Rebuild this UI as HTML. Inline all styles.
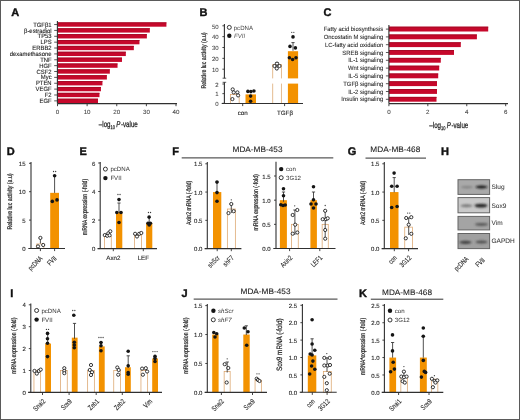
<!DOCTYPE html>
<html><head><meta charset="utf-8"><style>
html,body{margin:0;padding:0;background:#fff;}
svg{display:block;will-change:transform;}
text{font-family:"Liberation Sans", sans-serif;stroke:#2a2a2a;stroke-width:0.12px;text-rendering:geometricPrecision;}
</style></head><body>
<svg width="520" height="420" viewBox="0 0 520 420">
<rect x="0.50" y="0.50" width="519.00" height="419.00" fill="none" stroke="#5a5a5a" stroke-width="1.0"/>
<text transform="translate(11.20 15.70)" font-size="11" text-anchor="start" font-weight="bold" fill="#111" style="stroke:#111;stroke-width:0.4px">A</text>
<rect x="57.40" y="22.40" width="109.02" height="4.30" fill="#c6082b"/>
<rect x="57.40" y="22.40" width="109.02" height="0.90" fill="#a50a25"/>
<line x1="54.20" y1="24.55" x2="57.40" y2="24.55" stroke="#303030" stroke-width="0.8"/>
<text transform="translate(51.60 26.65) scale(0.95 1)" font-size="6.2" text-anchor="end" font-weight="normal" fill="#1e1e1e">TGFβ1</text>
<rect x="57.40" y="28.27" width="92.43" height="4.30" fill="#c6082b"/>
<rect x="57.40" y="28.27" width="92.43" height="0.90" fill="#a50a25"/>
<line x1="54.20" y1="30.42" x2="57.40" y2="30.42" stroke="#303030" stroke-width="0.8"/>
<text transform="translate(51.60 32.52) scale(0.95 1)" font-size="6.2" text-anchor="end" font-weight="normal" fill="#1e1e1e">β-estradiol</text>
<rect x="57.40" y="34.14" width="89.47" height="4.30" fill="#c6082b"/>
<rect x="57.40" y="34.14" width="89.47" height="0.90" fill="#a50a25"/>
<line x1="54.20" y1="36.29" x2="57.40" y2="36.29" stroke="#303030" stroke-width="0.8"/>
<text transform="translate(51.60 38.39) scale(0.95 1)" font-size="6.2" text-anchor="end" font-weight="normal" fill="#1e1e1e">TP53</text>
<rect x="57.40" y="40.01" width="82.06" height="4.30" fill="#c6082b"/>
<rect x="57.40" y="40.01" width="82.06" height="0.90" fill="#a50a25"/>
<line x1="54.20" y1="42.16" x2="57.40" y2="42.16" stroke="#303030" stroke-width="0.8"/>
<text transform="translate(51.60 44.26) scale(0.95 1)" font-size="6.2" text-anchor="end" font-weight="normal" fill="#1e1e1e">LPS</text>
<rect x="57.40" y="45.88" width="76.43" height="4.30" fill="#c6082b"/>
<rect x="57.40" y="45.88" width="76.43" height="0.90" fill="#a50a25"/>
<line x1="54.20" y1="48.03" x2="57.40" y2="48.03" stroke="#303030" stroke-width="0.8"/>
<text transform="translate(51.60 50.13) scale(0.95 1)" font-size="6.2" text-anchor="end" font-weight="normal" fill="#1e1e1e">ERBB2</text>
<rect x="57.40" y="51.75" width="68.43" height="4.30" fill="#c6082b"/>
<rect x="57.40" y="51.75" width="68.43" height="0.90" fill="#a50a25"/>
<line x1="54.20" y1="53.90" x2="57.40" y2="53.90" stroke="#303030" stroke-width="0.8"/>
<text transform="translate(51.60 56.00) scale(0.95 1)" font-size="6.2" text-anchor="end" font-weight="normal" fill="#1e1e1e">dexamethasone</text>
<rect x="57.40" y="57.62" width="64.58" height="4.30" fill="#c6082b"/>
<rect x="57.40" y="57.62" width="64.58" height="0.90" fill="#a50a25"/>
<line x1="54.20" y1="59.77" x2="57.40" y2="59.77" stroke="#303030" stroke-width="0.8"/>
<text transform="translate(51.60 61.87) scale(0.95 1)" font-size="6.2" text-anchor="end" font-weight="normal" fill="#1e1e1e">TNF</text>
<rect x="57.40" y="63.49" width="60.14" height="4.30" fill="#c6082b"/>
<rect x="57.40" y="63.49" width="60.14" height="0.90" fill="#a50a25"/>
<line x1="54.20" y1="65.64" x2="57.40" y2="65.64" stroke="#303030" stroke-width="0.8"/>
<text transform="translate(51.60 67.74) scale(0.95 1)" font-size="6.2" text-anchor="end" font-weight="normal" fill="#1e1e1e">HGF</text>
<rect x="57.40" y="69.36" width="52.44" height="4.30" fill="#c6082b"/>
<rect x="57.40" y="69.36" width="52.44" height="0.90" fill="#a50a25"/>
<line x1="54.20" y1="71.51" x2="57.40" y2="71.51" stroke="#303030" stroke-width="0.8"/>
<text transform="translate(51.60 73.61) scale(0.95 1)" font-size="6.2" text-anchor="end" font-weight="normal" fill="#1e1e1e">CSF2</text>
<rect x="57.40" y="75.23" width="49.47" height="4.30" fill="#c6082b"/>
<rect x="57.40" y="75.23" width="49.47" height="0.90" fill="#a50a25"/>
<line x1="54.20" y1="77.38" x2="57.40" y2="77.38" stroke="#303030" stroke-width="0.8"/>
<text transform="translate(51.60 79.48) scale(0.95 1)" font-size="6.2" text-anchor="end" font-weight="normal" fill="#1e1e1e">Myc</text>
<rect x="57.40" y="81.10" width="45.03" height="4.30" fill="#c6082b"/>
<rect x="57.40" y="81.10" width="45.03" height="0.90" fill="#a50a25"/>
<line x1="54.20" y1="83.25" x2="57.40" y2="83.25" stroke="#303030" stroke-width="0.8"/>
<text transform="translate(51.60 85.35) scale(0.95 1)" font-size="6.2" text-anchor="end" font-weight="normal" fill="#1e1e1e">PTEN</text>
<rect x="57.40" y="86.97" width="43.55" height="4.30" fill="#c6082b"/>
<rect x="57.40" y="86.97" width="43.55" height="0.90" fill="#a50a25"/>
<line x1="54.20" y1="89.12" x2="57.40" y2="89.12" stroke="#303030" stroke-width="0.8"/>
<text transform="translate(51.60 91.22) scale(0.95 1)" font-size="6.2" text-anchor="end" font-weight="normal" fill="#1e1e1e">VEGF</text>
<rect x="57.40" y="92.84" width="42.07" height="4.30" fill="#c6082b"/>
<rect x="57.40" y="92.84" width="42.07" height="0.90" fill="#a50a25"/>
<line x1="54.20" y1="94.99" x2="57.40" y2="94.99" stroke="#303030" stroke-width="0.8"/>
<text transform="translate(51.60 97.09) scale(0.95 1)" font-size="6.2" text-anchor="end" font-weight="normal" fill="#1e1e1e">F2</text>
<rect x="57.40" y="98.71" width="40.59" height="4.30" fill="#c6082b"/>
<rect x="57.40" y="98.71" width="40.59" height="0.90" fill="#a50a25"/>
<line x1="54.20" y1="100.86" x2="57.40" y2="100.86" stroke="#303030" stroke-width="0.8"/>
<text transform="translate(51.60 102.96) scale(0.95 1)" font-size="6.2" text-anchor="end" font-weight="normal" fill="#1e1e1e">EGF</text>
<line x1="57.50" y1="103.60" x2="57.50" y2="106.20" stroke="#303030" stroke-width="0.9"/>
<text transform="translate(57.50 114.30)" font-size="6.2" text-anchor="middle" font-weight="normal" fill="#444" style="stroke-width:0.06px">0</text>
<line x1="87.12" y1="103.60" x2="87.12" y2="106.20" stroke="#303030" stroke-width="0.9"/>
<text transform="translate(87.12 114.30)" font-size="6.2" text-anchor="middle" font-weight="normal" fill="#444" style="stroke-width:0.06px">10</text>
<line x1="116.75" y1="103.60" x2="116.75" y2="106.20" stroke="#303030" stroke-width="0.9"/>
<text transform="translate(116.75 114.30)" font-size="6.2" text-anchor="middle" font-weight="normal" fill="#444" style="stroke-width:0.06px">20</text>
<line x1="146.38" y1="103.60" x2="146.38" y2="106.20" stroke="#303030" stroke-width="0.9"/>
<text transform="translate(146.38 114.30)" font-size="6.2" text-anchor="middle" font-weight="normal" fill="#444" style="stroke-width:0.06px">30</text>
<line x1="176.00" y1="103.60" x2="176.00" y2="106.20" stroke="#303030" stroke-width="0.9"/>
<text transform="translate(176.00 114.30)" font-size="6.2" text-anchor="middle" font-weight="normal" fill="#444" style="stroke-width:0.06px">40</text>
<text transform="translate(118.30 127.20) scale(0.74 1)" font-size="8.4" text-anchor="middle" font-weight="normal" fill="#1e1e1e" style="stroke:#1e1e1e;stroke-width:0.25px">–log<tspan font-size="5.4" dy="1.8">10</tspan><tspan dy="-1.8" font-size="6"> </tspan><tspan font-style="italic">P</tspan><tspan font-size="2.5"> </tspan>-value</text>
<text transform="translate(199.40 15.90)" font-size="11" text-anchor="start" font-weight="bold" fill="#111" style="stroke:#111;stroke-width:0.4px">B</text>
<line x1="222.60" y1="78.20" x2="226.20" y2="78.20" stroke="#303030" stroke-width="0.8"/>
<line x1="222.60" y1="82.30" x2="226.20" y2="82.30" stroke="#303030" stroke-width="0.8"/>
<line x1="222.40" y1="69.20" x2="224.40" y2="69.20" stroke="#303030" stroke-width="0.9"/>
<text transform="translate(218.70 72.00)" font-size="6.0" text-anchor="end" font-weight="normal" fill="#444" style="stroke:#444;stroke-width:0.05px">10</text>
<line x1="222.40" y1="58.35" x2="224.40" y2="58.35" stroke="#303030" stroke-width="0.9"/>
<text transform="translate(218.70 61.15)" font-size="6.0" text-anchor="end" font-weight="normal" fill="#444" style="stroke:#444;stroke-width:0.05px">20</text>
<line x1="222.40" y1="47.50" x2="224.40" y2="47.50" stroke="#303030" stroke-width="0.9"/>
<text transform="translate(218.70 50.30)" font-size="6.0" text-anchor="end" font-weight="normal" fill="#444" style="stroke:#444;stroke-width:0.05px">30</text>
<line x1="222.40" y1="36.65" x2="224.40" y2="36.65" stroke="#303030" stroke-width="0.9"/>
<text transform="translate(218.70 39.45)" font-size="6.0" text-anchor="end" font-weight="normal" fill="#444" style="stroke:#444;stroke-width:0.05px">40</text>
<line x1="222.40" y1="25.80" x2="224.40" y2="25.80" stroke="#303030" stroke-width="0.9"/>
<text transform="translate(218.70 28.60)" font-size="6.0" text-anchor="end" font-weight="normal" fill="#444" style="stroke:#444;stroke-width:0.05px">50</text>
<line x1="222.40" y1="103.30" x2="224.40" y2="103.30" stroke="#303030" stroke-width="0.9"/>
<text transform="translate(218.70 106.10)" font-size="6.0" text-anchor="end" font-weight="normal" fill="#444" style="stroke:#444;stroke-width:0.05px">0</text>
<line x1="222.40" y1="93.65" x2="224.40" y2="93.65" stroke="#303030" stroke-width="0.9"/>
<text transform="translate(218.70 96.45)" font-size="6.0" text-anchor="end" font-weight="normal" fill="#444" style="stroke:#444;stroke-width:0.05px">1</text>
<line x1="222.40" y1="84.00" x2="224.40" y2="84.00" stroke="#303030" stroke-width="0.9"/>
<text transform="translate(218.70 86.80)" font-size="6.0" text-anchor="end" font-weight="normal" fill="#444" style="stroke:#444;stroke-width:0.05px">2</text>
<text transform="translate(205.80 60.40) rotate(-90) scale(0.76 1)" font-size="6.8" text-anchor="middle" font-weight="normal" fill="#1e1e1e" style="stroke:#1e1e1e;stroke-width:0.22px">Relative luc activity (a.u)</text>
<rect x="230.35" y="94.40" width="8.80" height="9.10" fill="#fff" stroke="#dba46c" stroke-width="0.75"/>
<rect x="245.50" y="94.40" width="10.50" height="9.10" fill="#f39200"/>
<rect x="272.75" y="64.50" width="8.60" height="39.00" fill="#fff" stroke="#dba46c" stroke-width="0.75"/>
<rect x="287.90" y="51.20" width="10.20" height="52.30" fill="#f39200"/>
<rect x="270.00" y="78.40" width="30.00" height="5.20" fill="#fff"/>
<line x1="242.70" y1="103.50" x2="242.70" y2="106.10" stroke="#303030" stroke-width="0.9"/>
<line x1="284.60" y1="103.50" x2="284.60" y2="106.10" stroke="#303030" stroke-width="0.9"/>
<text transform="translate(242.70 114.60)" font-size="6.2" text-anchor="middle" font-weight="normal" fill="#2a2a2a">con</text>
<text transform="translate(285.00 114.60)" font-size="6.2" text-anchor="middle" font-weight="normal" fill="#2a2a2a">TGFβ</text>
<circle cx="229.30" cy="27.40" r="2.0" fill="#fff" stroke="#151515" stroke-width="0.85"/>
<text transform="translate(233.70 29.60)" font-size="6.1" text-anchor="start" font-weight="normal" fill="#444" style="stroke-width:0">pcDNA</text>
<circle cx="229.30" cy="35.80" r="2.2" fill="#151515"/>
<text transform="translate(234.00 38.00)" font-size="6.1" text-anchor="start" font-weight="normal" fill="#555" style="stroke-width:0;font-style:italic">FVII</text>
<text transform="translate(323.60 16.20)" font-size="11" text-anchor="start" font-weight="bold" fill="#111" style="stroke:#111;stroke-width:0.4px">C</text>
<rect x="388.90" y="26.70" width="99.30" height="4.80" fill="#c6082b"/>
<rect x="388.90" y="26.70" width="99.30" height="0.90" fill="#a50a25"/>
<line x1="385.90" y1="29.10" x2="388.90" y2="29.10" stroke="#303030" stroke-width="0.8"/>
<text transform="translate(383.20 31.20) scale(0.95 1)" font-size="6.2" text-anchor="end" font-weight="normal" fill="#2a2a2a" style="stroke-width:0.08px">Fatty acid biosynthesis</text>
<rect x="388.90" y="34.50" width="88.00" height="4.80" fill="#c6082b"/>
<rect x="388.90" y="34.50" width="88.00" height="0.90" fill="#a50a25"/>
<line x1="385.90" y1="36.90" x2="388.90" y2="36.90" stroke="#303030" stroke-width="0.8"/>
<text transform="translate(383.20 39.00) scale(0.95 1)" font-size="6.2" text-anchor="end" font-weight="normal" fill="#2a2a2a" style="stroke-width:0.08px">Oncostatin M signaling</text>
<rect x="388.90" y="42.30" width="71.90" height="4.80" fill="#c6082b"/>
<rect x="388.90" y="42.30" width="71.90" height="0.90" fill="#a50a25"/>
<line x1="385.90" y1="44.70" x2="388.90" y2="44.70" stroke="#303030" stroke-width="0.8"/>
<text transform="translate(383.20 46.80) scale(0.95 1)" font-size="6.2" text-anchor="end" font-weight="normal" fill="#2a2a2a" style="stroke-width:0.08px">LC-fatty acid oxidation</text>
<rect x="388.90" y="50.10" width="65.10" height="4.80" fill="#c6082b"/>
<rect x="388.90" y="50.10" width="65.10" height="0.90" fill="#a50a25"/>
<line x1="385.90" y1="52.50" x2="388.90" y2="52.50" stroke="#303030" stroke-width="0.8"/>
<text transform="translate(383.20 54.60) scale(0.95 1)" font-size="6.2" text-anchor="end" font-weight="normal" fill="#2a2a2a" style="stroke-width:0.08px">SREB signaling</text>
<rect x="388.90" y="57.90" width="51.90" height="4.80" fill="#c6082b"/>
<rect x="388.90" y="57.90" width="51.90" height="0.90" fill="#a50a25"/>
<line x1="385.90" y1="60.30" x2="388.90" y2="60.30" stroke="#303030" stroke-width="0.8"/>
<text transform="translate(383.20 62.40) scale(0.95 1)" font-size="6.2" text-anchor="end" font-weight="normal" fill="#2a2a2a" style="stroke-width:0.08px">IL-1 signaling</text>
<rect x="388.90" y="65.70" width="50.30" height="4.80" fill="#c6082b"/>
<rect x="388.90" y="65.70" width="50.30" height="0.90" fill="#a50a25"/>
<line x1="385.90" y1="68.10" x2="388.90" y2="68.10" stroke="#303030" stroke-width="0.8"/>
<text transform="translate(383.20 70.20) scale(0.95 1)" font-size="6.2" text-anchor="end" font-weight="normal" fill="#2a2a2a" style="stroke-width:0.08px">Wnt signaling</text>
<rect x="388.90" y="73.50" width="49.30" height="4.80" fill="#c6082b"/>
<rect x="388.90" y="73.50" width="49.30" height="0.90" fill="#a50a25"/>
<line x1="385.90" y1="75.90" x2="388.90" y2="75.90" stroke="#303030" stroke-width="0.8"/>
<text transform="translate(383.20 78.00) scale(0.95 1)" font-size="6.2" text-anchor="end" font-weight="normal" fill="#2a2a2a" style="stroke-width:0.08px">IL-5 signaling</text>
<rect x="388.90" y="81.30" width="48.10" height="4.80" fill="#c6082b"/>
<rect x="388.90" y="81.30" width="48.10" height="0.90" fill="#a50a25"/>
<line x1="385.90" y1="83.70" x2="388.90" y2="83.70" stroke="#303030" stroke-width="0.8"/>
<text transform="translate(383.20 85.80) scale(0.95 1)" font-size="6.2" text-anchor="end" font-weight="normal" fill="#2a2a2a" style="stroke-width:0.08px">TGFβ signaling</text>
<rect x="388.90" y="89.10" width="48.10" height="4.80" fill="#c6082b"/>
<rect x="388.90" y="89.10" width="48.10" height="0.90" fill="#a50a25"/>
<line x1="385.90" y1="91.50" x2="388.90" y2="91.50" stroke="#303030" stroke-width="0.8"/>
<text transform="translate(383.20 93.60) scale(0.95 1)" font-size="6.2" text-anchor="end" font-weight="normal" fill="#2a2a2a" style="stroke-width:0.08px">IL-2 signaling</text>
<rect x="388.90" y="96.90" width="47.60" height="4.80" fill="#c6082b"/>
<rect x="388.90" y="96.90" width="47.60" height="0.90" fill="#a50a25"/>
<line x1="385.90" y1="99.30" x2="388.90" y2="99.30" stroke="#303030" stroke-width="0.8"/>
<text transform="translate(383.20 101.40) scale(0.95 1)" font-size="6.2" text-anchor="end" font-weight="normal" fill="#2a2a2a" style="stroke-width:0.08px">Insulin signaling</text>
<line x1="388.90" y1="103.60" x2="388.90" y2="106.20" stroke="#303030" stroke-width="0.9"/>
<text transform="translate(388.90 114.30)" font-size="6.2" text-anchor="middle" font-weight="normal" fill="#444" style="stroke-width:0.06px">0</text>
<line x1="427.83" y1="103.60" x2="427.83" y2="106.20" stroke="#303030" stroke-width="0.9"/>
<text transform="translate(427.83 114.30)" font-size="6.2" text-anchor="middle" font-weight="normal" fill="#444" style="stroke-width:0.06px">2</text>
<line x1="466.77" y1="103.60" x2="466.77" y2="106.20" stroke="#303030" stroke-width="0.9"/>
<text transform="translate(466.77 114.30)" font-size="6.2" text-anchor="middle" font-weight="normal" fill="#444" style="stroke-width:0.06px">4</text>
<line x1="505.70" y1="103.60" x2="505.70" y2="106.20" stroke="#303030" stroke-width="0.9"/>
<text transform="translate(505.70 114.30)" font-size="6.2" text-anchor="middle" font-weight="normal" fill="#444" style="stroke-width:0.06px">6</text>
<text transform="translate(448.80 127.80) scale(0.74 1)" font-size="8.4" text-anchor="middle" font-weight="normal" fill="#1e1e1e" style="stroke:#1e1e1e;stroke-width:0.25px">–log<tspan font-size="5.4" dy="1.8">10</tspan><tspan dy="-1.8" font-size="6"> </tspan><tspan font-style="italic">P</tspan><tspan font-size="2.5"> </tspan>-value</text>
<text transform="translate(6.80 154.70)" font-size="11" text-anchor="start" font-weight="bold" fill="#111" style="stroke:#111;stroke-width:0.4px">D</text>
<line x1="29.00" y1="248.50" x2="31.00" y2="248.50" stroke="#303030" stroke-width="0.9"/>
<text transform="translate(25.50 251.10)" font-size="6.0" text-anchor="end" font-weight="normal" fill="#2a2a2a" style="stroke:#2a2a2a;stroke-width:0.12px">0</text>
<line x1="29.00" y1="220.10" x2="31.00" y2="220.10" stroke="#303030" stroke-width="0.9"/>
<text transform="translate(25.50 222.70)" font-size="6.0" text-anchor="end" font-weight="normal" fill="#2a2a2a" style="stroke:#2a2a2a;stroke-width:0.12px">5</text>
<line x1="29.00" y1="191.70" x2="31.00" y2="191.70" stroke="#303030" stroke-width="0.9"/>
<text transform="translate(25.50 194.30)" font-size="6.0" text-anchor="end" font-weight="normal" fill="#2a2a2a" style="stroke:#2a2a2a;stroke-width:0.12px">10</text>
<line x1="29.00" y1="163.30" x2="31.00" y2="163.30" stroke="#303030" stroke-width="0.9"/>
<text transform="translate(25.50 165.90)" font-size="6.0" text-anchor="end" font-weight="normal" fill="#2a2a2a" style="stroke:#2a2a2a;stroke-width:0.12px">15</text>
<text transform="translate(12.10 201.50) rotate(-90) scale(0.76 1)" font-size="6.8" text-anchor="middle" font-weight="normal" fill="#1e1e1e" style="stroke:#1e1e1e;stroke-width:0.22px">Relative luc activity (a.u)</text>
<rect x="36.75" y="243.96" width="7.10" height="4.54" fill="#fff" stroke="#dba46c" stroke-width="0.75"/>
<rect x="50.20" y="192.84" width="8.80" height="55.66" fill="#f39200"/>
<line x1="40.40" y1="248.50" x2="40.40" y2="251.10" stroke="#303030" stroke-width="0.9"/>
<line x1="54.60" y1="248.50" x2="54.60" y2="251.10" stroke="#303030" stroke-width="0.9"/>
<text transform="translate(43.00 258.90) rotate(-45) scale(0.75 1)" font-size="7.2" text-anchor="end" font-weight="normal" fill="#2a2a2a">pcDNA</text>
<text transform="translate(57.00 258.90) rotate(-45) scale(0.75 1)" font-size="7.2" text-anchor="end" font-weight="normal" fill="#2a2a2a">FVII</text>
<text transform="translate(79.50 154.80)" font-size="11" text-anchor="start" font-weight="bold" fill="#111" style="stroke:#111;stroke-width:0.4px">E</text>
<line x1="98.20" y1="248.60" x2="100.20" y2="248.60" stroke="#303030" stroke-width="0.9"/>
<text transform="translate(95.40 251.20)" font-size="6.0" text-anchor="end" font-weight="normal" fill="#2a2a2a" style="stroke:#2a2a2a;stroke-width:0.12px">0</text>
<line x1="98.20" y1="220.07" x2="100.20" y2="220.07" stroke="#303030" stroke-width="0.9"/>
<text transform="translate(95.40 222.67)" font-size="6.0" text-anchor="end" font-weight="normal" fill="#2a2a2a" style="stroke:#2a2a2a;stroke-width:0.12px">2</text>
<line x1="98.20" y1="191.53" x2="100.20" y2="191.53" stroke="#303030" stroke-width="0.9"/>
<text transform="translate(95.40 194.13)" font-size="6.0" text-anchor="end" font-weight="normal" fill="#2a2a2a" style="stroke:#2a2a2a;stroke-width:0.12px">4</text>
<line x1="98.20" y1="163.00" x2="100.20" y2="163.00" stroke="#303030" stroke-width="0.9"/>
<text transform="translate(95.40 165.60)" font-size="6.0" text-anchor="end" font-weight="normal" fill="#2a2a2a" style="stroke:#2a2a2a;stroke-width:0.12px">6</text>
<text transform="translate(87.30 207.00) rotate(-90) scale(0.76 1)" font-size="6.8" text-anchor="middle" font-weight="normal" fill="#1e1e1e" style="stroke:#1e1e1e;stroke-width:0.22px">mRNA expression (-fold)</text>
<rect x="104.55" y="236.47" width="6.70" height="12.13" fill="#fff" stroke="#dba46c" stroke-width="0.75"/>
<rect x="116.00" y="212.22" width="6.30" height="36.38" fill="#f39200"/>
<rect x="134.55" y="235.05" width="6.90" height="13.55" fill="#fff" stroke="#dba46c" stroke-width="0.75"/>
<rect x="146.10" y="222.92" width="6.20" height="25.68" fill="#f39200"/>
<line x1="113.30" y1="248.60" x2="113.30" y2="251.20" stroke="#303030" stroke-width="0.9"/>
<line x1="143.30" y1="248.60" x2="143.30" y2="251.20" stroke="#303030" stroke-width="0.9"/>
<text transform="translate(113.30 260.30)" font-size="6.2" text-anchor="middle" font-weight="normal" fill="#2a2a2a">Axn2</text>
<text transform="translate(143.30 260.30)" font-size="6.2" text-anchor="middle" font-weight="normal" fill="#2a2a2a">LEF</text>
<circle cx="105.40" cy="169.10" r="2.0" fill="#fff" stroke="#151515" stroke-width="0.85"/>
<text transform="translate(110.40 171.30)" font-size="6.1" text-anchor="start" font-weight="normal" fill="#333" style="stroke-width:0">pcDNA</text>
<circle cx="105.40" cy="178.10" r="2.2" fill="#151515"/>
<text transform="translate(110.40 180.30)" font-size="6.1" text-anchor="start" font-weight="normal" fill="#333" style="stroke-width:0">FVII</text>
<text transform="translate(172.30 154.70)" font-size="11" text-anchor="start" font-weight="bold" fill="#111" style="stroke:#111;stroke-width:0.4px">F</text>
<text transform="translate(257.50 152.30) scale(1.03 1)" font-size="8.0" text-anchor="middle" font-weight="normal" fill="#222" style="stroke-width:0.1px">MDA-MB-453</text>
<line x1="181.70" y1="157.90" x2="333.30" y2="157.90" stroke="#303030" stroke-width="1.0"/>
<line x1="205.30" y1="248.60" x2="207.30" y2="248.60" stroke="#303030" stroke-width="0.9"/>
<text transform="translate(202.40 251.20)" font-size="6.0" text-anchor="end" font-weight="normal" fill="#2a2a2a" style="stroke:#2a2a2a;stroke-width:0.12px">0.0</text>
<line x1="205.30" y1="220.33" x2="207.30" y2="220.33" stroke="#303030" stroke-width="0.9"/>
<text transform="translate(202.40 222.93)" font-size="6.0" text-anchor="end" font-weight="normal" fill="#2a2a2a" style="stroke:#2a2a2a;stroke-width:0.12px">0.5</text>
<line x1="205.30" y1="192.07" x2="207.30" y2="192.07" stroke="#303030" stroke-width="0.9"/>
<text transform="translate(202.40 194.67)" font-size="6.0" text-anchor="end" font-weight="normal" fill="#2a2a2a" style="stroke:#2a2a2a;stroke-width:0.12px">1.0</text>
<line x1="205.30" y1="163.80" x2="207.30" y2="163.80" stroke="#303030" stroke-width="0.9"/>
<text transform="translate(202.40 166.40)" font-size="6.0" text-anchor="end" font-weight="normal" fill="#2a2a2a" style="stroke:#2a2a2a;stroke-width:0.12px">1.5</text>
<text transform="translate(190.80 202.80) rotate(-90) scale(0.76 1)" font-size="6.8" text-anchor="middle" font-weight="normal" fill="#1e1e1e" style="stroke:#1e1e1e;stroke-width:0.22px">Axin2 mRNA (-fold)</text>
<rect x="213.00" y="192.07" width="8.30" height="56.53" fill="#f39200"/>
<rect x="227.35" y="209.03" width="8.00" height="39.57" fill="#fff" stroke="#dba46c" stroke-width="0.75"/>
<line x1="217.20" y1="248.60" x2="217.20" y2="251.20" stroke="#303030" stroke-width="0.9"/>
<line x1="231.30" y1="248.60" x2="231.30" y2="251.20" stroke="#303030" stroke-width="0.9"/>
<text transform="translate(220.30 258.40) rotate(-45) scale(0.75 1)" font-size="7.2" text-anchor="end" font-weight="normal" fill="#2a2a2a">shScr</text>
<text transform="translate(234.30 258.40) rotate(-45) scale(0.75 1)" font-size="7.2" text-anchor="end" font-weight="normal" fill="#2a2a2a">shF7</text>
<line x1="274.00" y1="248.50" x2="276.00" y2="248.50" stroke="#303030" stroke-width="0.9"/>
<text transform="translate(270.50 251.10)" font-size="6.0" text-anchor="end" font-weight="normal" fill="#2a2a2a" style="stroke:#2a2a2a;stroke-width:0.12px">0.0</text>
<line x1="274.00" y1="224.33" x2="276.00" y2="224.33" stroke="#303030" stroke-width="0.9"/>
<text transform="translate(270.50 226.93)" font-size="6.0" text-anchor="end" font-weight="normal" fill="#2a2a2a" style="stroke:#2a2a2a;stroke-width:0.12px">0.5</text>
<line x1="274.00" y1="200.17" x2="276.00" y2="200.17" stroke="#303030" stroke-width="0.9"/>
<text transform="translate(270.50 202.77)" font-size="6.0" text-anchor="end" font-weight="normal" fill="#2a2a2a" style="stroke:#2a2a2a;stroke-width:0.12px">1.0</text>
<line x1="274.00" y1="176.00" x2="276.00" y2="176.00" stroke="#303030" stroke-width="0.9"/>
<text transform="translate(270.50 178.60)" font-size="6.0" text-anchor="end" font-weight="normal" fill="#2a2a2a" style="stroke:#2a2a2a;stroke-width:0.12px">1.5</text>
<text transform="translate(258.40 202.30) rotate(-90) scale(0.76 1)" font-size="6.8" text-anchor="middle" font-weight="normal" fill="#1e1e1e" style="stroke:#1e1e1e;stroke-width:0.22px">mRNA expression (-fold)</text>
<rect x="279.90" y="200.17" width="7.00" height="48.33" fill="#f39200"/>
<rect x="291.55" y="224.33" width="6.70" height="24.17" fill="#fff" stroke="#dba46c" stroke-width="0.75"/>
<rect x="310.40" y="200.17" width="6.50" height="48.33" fill="#f39200"/>
<rect x="322.15" y="224.33" width="6.10" height="24.17" fill="#fff" stroke="#dba46c" stroke-width="0.75"/>
<line x1="289.60" y1="248.50" x2="289.60" y2="251.10" stroke="#303030" stroke-width="0.9"/>
<line x1="319.80" y1="248.50" x2="319.80" y2="251.10" stroke="#303030" stroke-width="0.9"/>
<text transform="translate(292.80 258.40) rotate(-45) scale(0.75 1)" font-size="7.2" text-anchor="end" font-weight="normal" fill="#2a2a2a">Axin2</text>
<text transform="translate(322.80 258.40) rotate(-45) scale(0.75 1)" font-size="7.2" text-anchor="end" font-weight="normal" fill="#2a2a2a">LEF1</text>
<circle cx="281.20" cy="169.10" r="2.2" fill="#151515"/>
<text transform="translate(286.00 171.40)" font-size="6.1" text-anchor="start" font-weight="normal" fill="#333" style="stroke-width:0">con</text>
<circle cx="281.20" cy="177.70" r="2.0" fill="#fff" stroke="#151515" stroke-width="0.85"/>
<text transform="translate(286.00 179.90)" font-size="6.1" text-anchor="start" font-weight="normal" fill="#333" style="stroke-width:0">3G12</text>
<text transform="translate(347.80 155.00)" font-size="11" text-anchor="start" font-weight="bold" fill="#111" style="stroke:#111;stroke-width:0.4px">G</text>
<text transform="translate(395.30 152.10) scale(1.03 1)" font-size="8.0" text-anchor="middle" font-weight="normal" fill="#222" style="stroke-width:0.1px">MDA-MB-468</text>
<line x1="365.50" y1="158.10" x2="426.00" y2="158.10" stroke="#303030" stroke-width="1.0"/>
<line x1="382.30" y1="248.60" x2="384.30" y2="248.60" stroke="#303030" stroke-width="0.9"/>
<text transform="translate(379.40 251.20)" font-size="6.0" text-anchor="end" font-weight="normal" fill="#2a2a2a" style="stroke:#2a2a2a;stroke-width:0.12px">0.0</text>
<line x1="382.30" y1="220.33" x2="384.30" y2="220.33" stroke="#303030" stroke-width="0.9"/>
<text transform="translate(379.40 222.93)" font-size="6.0" text-anchor="end" font-weight="normal" fill="#2a2a2a" style="stroke:#2a2a2a;stroke-width:0.12px">0.5</text>
<line x1="382.30" y1="192.07" x2="384.30" y2="192.07" stroke="#303030" stroke-width="0.9"/>
<text transform="translate(379.40 194.67)" font-size="6.0" text-anchor="end" font-weight="normal" fill="#2a2a2a" style="stroke:#2a2a2a;stroke-width:0.12px">1.0</text>
<line x1="382.30" y1="163.80" x2="384.30" y2="163.80" stroke="#303030" stroke-width="0.9"/>
<text transform="translate(379.40 166.40)" font-size="6.0" text-anchor="end" font-weight="normal" fill="#2a2a2a" style="stroke:#2a2a2a;stroke-width:0.12px">1.5</text>
<text transform="translate(365.30 202.80) rotate(-90) scale(0.76 1)" font-size="6.8" text-anchor="middle" font-weight="normal" fill="#1e1e1e" style="stroke:#1e1e1e;stroke-width:0.22px">Axin2 mRNA (-fold)</text>
<rect x="390.00" y="192.07" width="8.50" height="56.53" fill="#f39200"/>
<rect x="404.75" y="227.12" width="7.70" height="21.48" fill="#fff" stroke="#dba46c" stroke-width="0.75"/>
<line x1="394.30" y1="248.60" x2="394.30" y2="251.20" stroke="#303030" stroke-width="0.9"/>
<line x1="408.60" y1="248.60" x2="408.60" y2="251.20" stroke="#303030" stroke-width="0.9"/>
<text transform="translate(397.30 258.40) rotate(-45) scale(0.75 1)" font-size="7.2" text-anchor="end" font-weight="normal" fill="#2a2a2a">con</text>
<text transform="translate(411.80 258.40) rotate(-45) scale(0.75 1)" font-size="7.2" text-anchor="end" font-weight="normal" fill="#2a2a2a">3G12</text>
<text transform="translate(441.10 154.80)" font-size="11" text-anchor="start" font-weight="bold" fill="#111" style="stroke:#111;stroke-width:0.4px">H</text>
<defs>
<filter id="bl" x="-50%" y="-100%" width="200%" height="300%"><feGaussianBlur stdDeviation="1.3 0.8"/></filter>
</defs>
<rect x="458.00" y="179.70" width="31.60" height="14.70" fill="#a9a9a9" stroke="#646464" stroke-width="1.0"/>
<text transform="translate(491.50 189.35)" font-size="6.5" text-anchor="start" font-weight="normal" fill="#333" style="stroke-width:0.05px">Slug</text>
<rect x="458.00" y="197.60" width="31.60" height="15.20" fill="#c9c9c9" stroke="#646464" stroke-width="1.0"/>
<text transform="translate(491.50 207.50)" font-size="6.5" text-anchor="start" font-weight="normal" fill="#333" style="stroke-width:0.05px">Sox9</text>
<rect x="458.00" y="216.40" width="31.60" height="13.50" fill="#a4a4a4" stroke="#646464" stroke-width="1.0"/>
<text transform="translate(491.50 225.45)" font-size="6.5" text-anchor="start" font-weight="normal" fill="#333" style="stroke-width:0.05px">Vim</text>
<rect x="458.00" y="233.50" width="31.60" height="15.10" fill="#a0a0a0" stroke="#646464" stroke-width="1.0"/>
<text transform="translate(491.50 243.35)" font-size="6.5" text-anchor="start" font-weight="normal" fill="#333" style="stroke-width:0.05px">GAPDH</text>
<ellipse cx="467" cy="187.2" rx="6.0" ry="1.2" fill="#7a7a7a" opacity="0.8" filter="url(#bl)"/>
<ellipse cx="481.5" cy="187.0" rx="6.0" ry="1.5" fill="#151515" opacity="1.0" filter="url(#bl)"/>
<ellipse cx="466.5" cy="205.8" rx="6.0" ry="1.5" fill="#6e6e6e" opacity="0.9" filter="url(#bl)"/>
<ellipse cx="481" cy="205.6" rx="6.5" ry="1.9" fill="#252525" opacity="1.0" filter="url(#bl)"/>
<ellipse cx="481.5" cy="224.4" rx="6.5" ry="1.5" fill="#505050" opacity="0.9" filter="url(#bl)"/>
<ellipse cx="465.5" cy="242.3" rx="6.0" ry="1.6" fill="#3a3a3a" opacity="0.95" filter="url(#bl)"/>
<ellipse cx="481.5" cy="242.0" rx="6.0" ry="1.5" fill="#484848" opacity="0.95" filter="url(#bl)"/>
<text transform="translate(469.10 259.50) rotate(-45) scale(0.75 1)" font-size="7.2" text-anchor="end" font-weight="normal" fill="#2a2a2a">pcDNA</text>
<text transform="translate(485.30 260.60) rotate(-45) scale(0.75 1)" font-size="7.2" text-anchor="end" font-weight="normal" fill="#2a2a2a">FVII</text>
<text transform="translate(10.20 296.80)" font-size="11" text-anchor="start" font-weight="bold" fill="#111" style="stroke:#111;stroke-width:0.4px">I</text>
<line x1="28.80" y1="392.40" x2="30.80" y2="392.40" stroke="#303030" stroke-width="0.9"/>
<text transform="translate(25.80 395.00)" font-size="6.0" text-anchor="end" font-weight="normal" fill="#2a2a2a" style="stroke:#2a2a2a;stroke-width:0.12px">0</text>
<line x1="28.80" y1="370.50" x2="30.80" y2="370.50" stroke="#303030" stroke-width="0.9"/>
<text transform="translate(25.80 373.10)" font-size="6.0" text-anchor="end" font-weight="normal" fill="#2a2a2a" style="stroke:#2a2a2a;stroke-width:0.12px">1</text>
<line x1="28.80" y1="348.60" x2="30.80" y2="348.60" stroke="#303030" stroke-width="0.9"/>
<text transform="translate(25.80 351.20)" font-size="6.0" text-anchor="end" font-weight="normal" fill="#2a2a2a" style="stroke:#2a2a2a;stroke-width:0.12px">2</text>
<line x1="28.80" y1="326.70" x2="30.80" y2="326.70" stroke="#303030" stroke-width="0.9"/>
<text transform="translate(25.80 329.30)" font-size="6.0" text-anchor="end" font-weight="normal" fill="#2a2a2a" style="stroke:#2a2a2a;stroke-width:0.12px">3</text>
<line x1="28.80" y1="304.80" x2="30.80" y2="304.80" stroke="#303030" stroke-width="0.9"/>
<text transform="translate(25.80 307.40)" font-size="6.0" text-anchor="end" font-weight="normal" fill="#2a2a2a" style="stroke:#2a2a2a;stroke-width:0.12px">4</text>
<text transform="translate(16.30 345.70) rotate(-90) scale(0.76 1)" font-size="6.8" text-anchor="middle" font-weight="normal" fill="#1e1e1e" style="stroke:#1e1e1e;stroke-width:0.22px">mRNA expression (-fold)</text>
<rect x="33.95" y="370.50" width="6.70" height="21.90" fill="#fff" stroke="#dba46c" stroke-width="0.75"/>
<rect x="45.20" y="343.56" width="5.80" height="48.84" fill="#f39200"/>
<line x1="42.50" y1="392.40" x2="42.50" y2="395.00" stroke="#303030" stroke-width="0.9"/>
<text transform="translate(45.80 401.90) rotate(-45) scale(0.75 1)" font-size="7.2" text-anchor="end" font-weight="normal" fill="#2a2a2a">Snai2</text>
<rect x="60.55" y="370.50" width="6.70" height="21.90" fill="#fff" stroke="#dba46c" stroke-width="0.75"/>
<rect x="71.80" y="337.65" width="5.80" height="54.75" fill="#f39200"/>
<line x1="69.10" y1="392.40" x2="69.10" y2="395.00" stroke="#303030" stroke-width="0.9"/>
<text transform="translate(72.40 401.90) rotate(-45) scale(0.75 1)" font-size="7.2" text-anchor="end" font-weight="normal" fill="#2a2a2a">Sox9</text>
<rect x="87.65" y="370.50" width="6.70" height="21.90" fill="#fff" stroke="#dba46c" stroke-width="0.75"/>
<rect x="98.90" y="346.41" width="5.80" height="45.99" fill="#f39200"/>
<line x1="96.20" y1="392.40" x2="96.20" y2="395.00" stroke="#303030" stroke-width="0.9"/>
<text transform="translate(99.50 401.90) rotate(-45) scale(0.75 1)" font-size="7.2" text-anchor="end" font-weight="normal" fill="#2a2a2a">Zeb1</text>
<rect x="113.75" y="370.50" width="6.70" height="21.90" fill="#fff" stroke="#dba46c" stroke-width="0.75"/>
<rect x="125.00" y="367.21" width="5.80" height="25.19" fill="#f39200"/>
<line x1="122.30" y1="392.40" x2="122.30" y2="395.00" stroke="#303030" stroke-width="0.9"/>
<text transform="translate(125.60 401.90) rotate(-45) scale(0.75 1)" font-size="7.2" text-anchor="end" font-weight="normal" fill="#2a2a2a">Zeb2</text>
<rect x="140.95" y="370.50" width="6.70" height="21.90" fill="#fff" stroke="#dba46c" stroke-width="0.75"/>
<rect x="152.20" y="358.45" width="5.80" height="33.94" fill="#f39200"/>
<line x1="149.50" y1="392.40" x2="149.50" y2="395.00" stroke="#303030" stroke-width="0.9"/>
<text transform="translate(152.80 401.90) rotate(-45) scale(0.75 1)" font-size="7.2" text-anchor="end" font-weight="normal" fill="#2a2a2a">Vim</text>
<circle cx="36.60" cy="310.50" r="2.0" fill="#fff" stroke="#151515" stroke-width="0.85"/>
<text transform="translate(41.40 312.70)" font-size="6.1" text-anchor="start" font-weight="normal" fill="#333" style="stroke-width:0">pcDNA</text>
<circle cx="36.60" cy="319.60" r="2.2" fill="#151515"/>
<text transform="translate(41.40 321.80)" font-size="6.1" text-anchor="start" font-weight="normal" fill="#333" style="stroke-width:0">FVII</text>
<text transform="translate(181.40 296.80)" font-size="11" text-anchor="start" font-weight="bold" fill="#111" style="stroke:#111;stroke-width:0.4px">J</text>
<text transform="translate(265.50 294.30) scale(1.03 1)" font-size="8.0" text-anchor="middle" font-weight="normal" fill="#222" style="stroke-width:0.1px">MDA-MB-453</text>
<line x1="193.70" y1="299.10" x2="337.50" y2="299.10" stroke="#303030" stroke-width="1.0"/>
<line x1="205.30" y1="392.40" x2="207.30" y2="392.40" stroke="#303030" stroke-width="0.9"/>
<text transform="translate(202.40 395.00)" font-size="6.0" text-anchor="end" font-weight="normal" fill="#2a2a2a" style="stroke:#2a2a2a;stroke-width:0.12px">0.0</text>
<line x1="205.30" y1="363.47" x2="207.30" y2="363.47" stroke="#303030" stroke-width="0.9"/>
<text transform="translate(202.40 366.07)" font-size="6.0" text-anchor="end" font-weight="normal" fill="#2a2a2a" style="stroke:#2a2a2a;stroke-width:0.12px">0.5</text>
<line x1="205.30" y1="334.53" x2="207.30" y2="334.53" stroke="#303030" stroke-width="0.9"/>
<text transform="translate(202.40 337.13)" font-size="6.0" text-anchor="end" font-weight="normal" fill="#2a2a2a" style="stroke:#2a2a2a;stroke-width:0.12px">1.0</text>
<line x1="205.30" y1="305.60" x2="207.30" y2="305.60" stroke="#303030" stroke-width="0.9"/>
<text transform="translate(202.40 308.20)" font-size="6.0" text-anchor="end" font-weight="normal" fill="#2a2a2a" style="stroke:#2a2a2a;stroke-width:0.12px">1.5</text>
<text transform="translate(188.30 345.70) rotate(-90) scale(0.76 1)" font-size="6.8" text-anchor="middle" font-weight="normal" fill="#1e1e1e" style="stroke:#1e1e1e;stroke-width:0.22px">mRNA expression (-fold)</text>
<rect x="212.20" y="334.53" width="6.40" height="57.87" fill="#f39200"/>
<rect x="224.15" y="371.57" width="6.00" height="20.83" fill="#fff" stroke="#dba46c" stroke-width="0.75"/>
<rect x="243.30" y="334.53" width="6.40" height="57.87" fill="#f39200"/>
<rect x="255.05" y="380.25" width="6.30" height="12.15" fill="#fff" stroke="#dba46c" stroke-width="0.75"/>
<line x1="221.40" y1="392.40" x2="221.40" y2="395.00" stroke="#303030" stroke-width="0.9"/>
<line x1="252.50" y1="392.40" x2="252.50" y2="395.00" stroke="#303030" stroke-width="0.9"/>
<text transform="translate(224.30 401.90) rotate(-45) scale(0.75 1)" font-size="7.2" text-anchor="end" font-weight="normal" fill="#2a2a2a">Snai2</text>
<text transform="translate(255.30 401.90) rotate(-45) scale(0.75 1)" font-size="7.2" text-anchor="end" font-weight="normal" fill="#2a2a2a">Sox9</text>
<circle cx="213.40" cy="310.80" r="2.2" fill="#151515"/>
<text transform="translate(218.00 313.00)" font-size="6.1" text-anchor="start" font-weight="normal" fill="#333" style="stroke-width:0;font-style:italic">shScr</text>
<circle cx="213.30" cy="319.80" r="2.0" fill="#fff" stroke="#151515" stroke-width="0.85"/>
<text transform="translate(218.00 321.90)" font-size="6.1" text-anchor="start" font-weight="normal" fill="#333" style="stroke-width:0;font-style:italic">shF7</text>
<line x1="300.40" y1="392.30" x2="302.40" y2="392.30" stroke="#303030" stroke-width="0.9"/>
<text transform="translate(297.00 394.90)" font-size="6.0" text-anchor="end" font-weight="normal" fill="#2a2a2a" style="stroke:#2a2a2a;stroke-width:0.12px">0.0</text>
<line x1="300.40" y1="374.90" x2="302.40" y2="374.90" stroke="#303030" stroke-width="0.9"/>
<text transform="translate(297.00 377.50)" font-size="6.0" text-anchor="end" font-weight="normal" fill="#2a2a2a" style="stroke:#2a2a2a;stroke-width:0.12px">0.5</text>
<line x1="300.40" y1="357.50" x2="302.40" y2="357.50" stroke="#303030" stroke-width="0.9"/>
<text transform="translate(297.00 360.10)" font-size="6.0" text-anchor="end" font-weight="normal" fill="#2a2a2a" style="stroke:#2a2a2a;stroke-width:0.12px">1.0</text>
<line x1="300.40" y1="340.10" x2="302.40" y2="340.10" stroke="#303030" stroke-width="0.9"/>
<text transform="translate(297.00 342.70)" font-size="6.0" text-anchor="end" font-weight="normal" fill="#2a2a2a" style="stroke:#2a2a2a;stroke-width:0.12px">1.5</text>
<line x1="300.40" y1="322.70" x2="302.40" y2="322.70" stroke="#303030" stroke-width="0.9"/>
<text transform="translate(297.00 325.30)" font-size="6.0" text-anchor="end" font-weight="normal" fill="#2a2a2a" style="stroke:#2a2a2a;stroke-width:0.12px">2.0</text>
<line x1="300.40" y1="305.30" x2="302.40" y2="305.30" stroke="#303030" stroke-width="0.9"/>
<text transform="translate(297.00 307.90)" font-size="6.0" text-anchor="end" font-weight="normal" fill="#2a2a2a" style="stroke:#2a2a2a;stroke-width:0.12px">2.5</text>
<text transform="translate(281.60 344.70) rotate(-90) scale(0.81 1)" font-size="7.8" text-anchor="middle" font-weight="normal" fill="#1e1e1e" style="stroke:#1e1e1e;stroke-width:0.22px">Sox9 mRNA (-fold)</text>
<rect x="307.80" y="355.41" width="8.50" height="36.89" fill="#f39200"/>
<rect x="323.35" y="371.42" width="7.90" height="20.88" fill="#fff" stroke="#dba46c" stroke-width="0.75"/>
<line x1="312.30" y1="392.30" x2="312.30" y2="394.90" stroke="#303030" stroke-width="0.9"/>
<line x1="327.10" y1="392.30" x2="327.10" y2="394.90" stroke="#303030" stroke-width="0.9"/>
<text transform="translate(315.30 401.90) rotate(-45) scale(0.75 1)" font-size="7.2" text-anchor="end" font-weight="normal" fill="#2a2a2a">con</text>
<text transform="translate(330.30 401.90) rotate(-45) scale(0.75 1)" font-size="7.2" text-anchor="end" font-weight="normal" fill="#2a2a2a">3G12</text>
<text transform="translate(359.00 296.70)" font-size="11" text-anchor="start" font-weight="bold" fill="#111" style="stroke:#111;stroke-width:0.4px">K</text>
<text transform="translate(407.00 294.50) scale(1.03 1)" font-size="8.0" text-anchor="middle" font-weight="normal" fill="#222" style="stroke-width:0.1px">MDA-MB-468</text>
<line x1="370.80" y1="299.20" x2="443.30" y2="299.20" stroke="#303030" stroke-width="1.0"/>
<line x1="382.40" y1="392.40" x2="384.40" y2="392.40" stroke="#303030" stroke-width="0.9"/>
<text transform="translate(379.50 395.00)" font-size="6.0" text-anchor="end" font-weight="normal" fill="#2a2a2a" style="stroke:#2a2a2a;stroke-width:0.12px">0.0</text>
<line x1="382.40" y1="374.98" x2="384.40" y2="374.98" stroke="#303030" stroke-width="0.9"/>
<text transform="translate(379.50 377.58)" font-size="6.0" text-anchor="end" font-weight="normal" fill="#2a2a2a" style="stroke:#2a2a2a;stroke-width:0.12px">0.5</text>
<line x1="382.40" y1="357.56" x2="384.40" y2="357.56" stroke="#303030" stroke-width="0.9"/>
<text transform="translate(379.50 360.16)" font-size="6.0" text-anchor="end" font-weight="normal" fill="#2a2a2a" style="stroke:#2a2a2a;stroke-width:0.12px">1.0</text>
<line x1="382.40" y1="340.14" x2="384.40" y2="340.14" stroke="#303030" stroke-width="0.9"/>
<text transform="translate(379.50 342.74)" font-size="6.0" text-anchor="end" font-weight="normal" fill="#2a2a2a" style="stroke:#2a2a2a;stroke-width:0.12px">1.5</text>
<line x1="382.40" y1="322.72" x2="384.40" y2="322.72" stroke="#303030" stroke-width="0.9"/>
<text transform="translate(379.50 325.32)" font-size="6.0" text-anchor="end" font-weight="normal" fill="#2a2a2a" style="stroke:#2a2a2a;stroke-width:0.12px">2.0</text>
<line x1="382.40" y1="305.30" x2="384.40" y2="305.30" stroke="#303030" stroke-width="0.9"/>
<text transform="translate(379.50 307.90)" font-size="6.0" text-anchor="end" font-weight="normal" fill="#2a2a2a" style="stroke:#2a2a2a;stroke-width:0.12px">2.5</text>
<text transform="translate(365.10 346.40) rotate(-90) scale(0.76 1)" font-size="6.8" text-anchor="middle" font-weight="normal" fill="#1e1e1e" style="stroke:#1e1e1e;stroke-width:0.22px">mRNA*expression (-fold)</text>
<rect x="389.40" y="357.56" width="6.70" height="34.84" fill="#f39200"/>
<rect x="400.85" y="376.37" width="6.50" height="16.03" fill="#fff" stroke="#dba46c" stroke-width="0.75"/>
<rect x="419.90" y="357.56" width="6.90" height="34.84" fill="#f39200"/>
<rect x="431.35" y="379.16" width="6.50" height="13.24" fill="#fff" stroke="#dba46c" stroke-width="0.75"/>
<line x1="398.60" y1="392.40" x2="398.60" y2="395.00" stroke="#303030" stroke-width="0.9"/>
<line x1="429.00" y1="392.40" x2="429.00" y2="395.00" stroke="#303030" stroke-width="0.9"/>
<text transform="translate(401.80 401.90) rotate(-45) scale(0.75 1)" font-size="7.2" text-anchor="end" font-weight="normal" fill="#2a2a2a">Snai1</text>
<text transform="translate(432.30 401.90) rotate(-45) scale(0.75 1)" font-size="7.2" text-anchor="end" font-weight="normal" fill="#2a2a2a">Sox9</text>
<circle cx="390.00" cy="310.80" r="2.2" fill="#151515"/>
<text transform="translate(394.80 313.00)" font-size="6.1" text-anchor="start" font-weight="normal" fill="#333" style="stroke-width:0">con</text>
<circle cx="390.00" cy="320.00" r="2.0" fill="#fff" stroke="#151515" stroke-width="0.85"/>
<text transform="translate(394.80 322.20)" font-size="6.1" text-anchor="start" font-weight="normal" fill="#333" style="stroke-width:0">3G12</text>
<line x1="57.40" y1="21.00" x2="57.40" y2="103.60" stroke="#303030" stroke-width="1.1"/>
<line x1="57.40" y1="103.60" x2="177.00" y2="103.60" stroke="#303030" stroke-width="1.1"/>
<line x1="224.40" y1="24.00" x2="224.40" y2="78.20" stroke="#303030" stroke-width="1.1"/>
<line x1="224.40" y1="82.30" x2="224.40" y2="103.50" stroke="#303030" stroke-width="1.1"/>
<line x1="221.70" y1="103.50" x2="303.00" y2="103.50" stroke="#303030" stroke-width="1.1"/>
<line x1="388.90" y1="25.00" x2="388.90" y2="103.60" stroke="#303030" stroke-width="1.1"/>
<line x1="388.90" y1="103.60" x2="508.00" y2="103.60" stroke="#303030" stroke-width="1.1"/>
<line x1="31.00" y1="162.00" x2="31.00" y2="248.50" stroke="#303030" stroke-width="1.1"/>
<line x1="28.30" y1="248.50" x2="65.00" y2="248.50" stroke="#303030" stroke-width="1.1"/>
<line x1="100.20" y1="162.00" x2="100.20" y2="248.60" stroke="#303030" stroke-width="1.1"/>
<line x1="97.50" y1="248.60" x2="157.00" y2="248.60" stroke="#303030" stroke-width="1.1"/>
<line x1="207.30" y1="162.00" x2="207.30" y2="248.60" stroke="#303030" stroke-width="1.1"/>
<line x1="204.60" y1="248.60" x2="241.40" y2="248.60" stroke="#303030" stroke-width="1.1"/>
<line x1="276.00" y1="161.70" x2="276.00" y2="248.50" stroke="#303030" stroke-width="1.1"/>
<line x1="273.30" y1="248.50" x2="335.50" y2="248.50" stroke="#303030" stroke-width="1.1"/>
<line x1="384.30" y1="162.00" x2="384.30" y2="248.60" stroke="#303030" stroke-width="1.1"/>
<line x1="381.60" y1="248.60" x2="418.00" y2="248.60" stroke="#303030" stroke-width="1.1"/>
<line x1="30.80" y1="303.50" x2="30.80" y2="392.40" stroke="#303030" stroke-width="1.1"/>
<line x1="28.10" y1="392.40" x2="162.00" y2="392.40" stroke="#303030" stroke-width="1.1"/>
<line x1="207.30" y1="304.00" x2="207.30" y2="392.40" stroke="#303030" stroke-width="1.1"/>
<line x1="204.60" y1="392.40" x2="267.00" y2="392.40" stroke="#303030" stroke-width="1.1"/>
<line x1="302.40" y1="304.00" x2="302.40" y2="392.30" stroke="#303030" stroke-width="1.1"/>
<line x1="299.70" y1="392.30" x2="336.70" y2="392.30" stroke="#303030" stroke-width="1.1"/>
<line x1="384.40" y1="304.00" x2="384.40" y2="392.40" stroke="#303030" stroke-width="1.1"/>
<line x1="381.70" y1="392.40" x2="443.30" y2="392.40" stroke="#303030" stroke-width="1.1"/>
<circle cx="232.70" cy="89.40" r="1.6" fill="#fff" stroke="#151515" stroke-width="0.85"/>
<circle cx="233.70" cy="92.40" r="1.6" fill="#fff" stroke="#151515" stroke-width="0.85"/>
<circle cx="237.40" cy="92.40" r="1.6" fill="#fff" stroke="#151515" stroke-width="0.85"/>
<circle cx="238.10" cy="95.40" r="1.6" fill="#fff" stroke="#151515" stroke-width="0.85"/>
<circle cx="232.40" cy="99.10" r="1.6" fill="#fff" stroke="#151515" stroke-width="0.85"/>
<circle cx="247.90" cy="91.40" r="1.8" fill="#151515"/>
<circle cx="250.90" cy="91.60" r="1.8" fill="#151515"/>
<circle cx="253.90" cy="91.00" r="1.8" fill="#151515"/>
<circle cx="250.60" cy="96.10" r="1.8" fill="#151515"/>
<circle cx="250.60" cy="101.20" r="1.8" fill="#151515"/>
<line x1="277.00" y1="62.50" x2="277.00" y2="66.70" stroke="#303030" stroke-width="0.85"/>
<line x1="275.40" y1="62.50" x2="278.60" y2="62.50" stroke="#303030" stroke-width="0.85"/>
<circle cx="274.50" cy="66.00" r="1.6" fill="#fff" stroke="#151515" stroke-width="0.85"/>
<circle cx="277.00" cy="63.60" r="1.6" fill="#fff" stroke="#151515" stroke-width="0.85"/>
<circle cx="279.50" cy="66.00" r="1.6" fill="#fff" stroke="#151515" stroke-width="0.85"/>
<circle cx="276.80" cy="68.50" r="1.6" fill="#fff" stroke="#151515" stroke-width="0.85"/>
<line x1="293.00" y1="42.60" x2="293.00" y2="50.70" stroke="#303030" stroke-width="0.85"/>
<line x1="291.40" y1="42.60" x2="294.60" y2="42.60" stroke="#303030" stroke-width="0.85"/>
<circle cx="293.00" cy="36.90" r="1.8" fill="#151515"/>
<circle cx="290.00" cy="46.40" r="1.8" fill="#151515"/>
<circle cx="295.40" cy="47.90" r="1.8" fill="#151515"/>
<circle cx="289.40" cy="57.70" r="1.8" fill="#151515"/>
<circle cx="292.60" cy="59.50" r="1.8" fill="#151515"/>
<circle cx="296.00" cy="57.70" r="1.8" fill="#151515"/>
<circle cx="291.75" cy="32.30" r="0.65" fill="#3a3a3a"/>
<circle cx="293.85" cy="32.30" r="0.65" fill="#3a3a3a"/>
<line x1="40.40" y1="237.90" x2="40.40" y2="243.50" stroke="#303030" stroke-width="0.85"/>
<line x1="38.80" y1="237.90" x2="42.00" y2="237.90" stroke="#303030" stroke-width="0.85"/>
<circle cx="40.40" cy="237.90" r="1.6" fill="#fff" stroke="#151515" stroke-width="0.85"/>
<circle cx="38.00" cy="246.40" r="1.6" fill="#fff" stroke="#151515" stroke-width="0.85"/>
<circle cx="43.20" cy="245.00" r="1.6" fill="#fff" stroke="#151515" stroke-width="0.85"/>
<line x1="54.60" y1="175.80" x2="54.60" y2="192.90" stroke="#303030" stroke-width="0.85"/>
<line x1="53.00" y1="175.80" x2="56.20" y2="175.80" stroke="#303030" stroke-width="0.85"/>
<circle cx="54.60" cy="175.80" r="1.8" fill="#151515"/>
<circle cx="52.30" cy="201.40" r="1.8" fill="#151515"/>
<circle cx="57.00" cy="199.90" r="1.8" fill="#151515"/>
<circle cx="53.55" cy="171.50" r="0.65" fill="#3a3a3a"/>
<circle cx="55.65" cy="171.50" r="0.65" fill="#3a3a3a"/>
<circle cx="110.30" cy="231.30" r="1.6" fill="#fff" stroke="#151515" stroke-width="0.85"/>
<circle cx="108.20" cy="233.40" r="1.6" fill="#fff" stroke="#151515" stroke-width="0.85"/>
<circle cx="104.80" cy="235.10" r="1.6" fill="#fff" stroke="#151515" stroke-width="0.85"/>
<circle cx="107.20" cy="235.80" r="1.6" fill="#fff" stroke="#151515" stroke-width="0.85"/>
<circle cx="109.60" cy="235.30" r="1.6" fill="#fff" stroke="#151515" stroke-width="0.85"/>
<line x1="119.00" y1="203.00" x2="119.00" y2="212.00" stroke="#303030" stroke-width="0.85"/>
<line x1="117.40" y1="203.00" x2="120.60" y2="203.00" stroke="#303030" stroke-width="0.85"/>
<circle cx="119.00" cy="199.60" r="1.8" fill="#151515"/>
<circle cx="116.80" cy="212.50" r="1.8" fill="#151515"/>
<circle cx="121.00" cy="212.50" r="1.8" fill="#151515"/>
<circle cx="119.00" cy="222.50" r="1.8" fill="#151515"/>
<circle cx="117.95" cy="194.50" r="0.65" fill="#3a3a3a"/>
<circle cx="120.05" cy="194.50" r="0.65" fill="#3a3a3a"/>
<circle cx="135.10" cy="233.80" r="1.6" fill="#fff" stroke="#151515" stroke-width="0.85"/>
<circle cx="137.00" cy="236.50" r="1.6" fill="#fff" stroke="#151515" stroke-width="0.85"/>
<circle cx="139.20" cy="233.80" r="1.6" fill="#fff" stroke="#151515" stroke-width="0.85"/>
<circle cx="141.30" cy="233.00" r="1.6" fill="#fff" stroke="#151515" stroke-width="0.85"/>
<line x1="149.20" y1="217.50" x2="149.20" y2="223.30" stroke="#303030" stroke-width="0.85"/>
<line x1="147.60" y1="217.50" x2="150.80" y2="217.50" stroke="#303030" stroke-width="0.85"/>
<circle cx="149.10" cy="217.10" r="1.8" fill="#151515"/>
<circle cx="148.00" cy="223.30" r="1.8" fill="#151515"/>
<circle cx="150.40" cy="223.30" r="1.8" fill="#151515"/>
<circle cx="149.20" cy="225.00" r="1.8" fill="#151515"/>
<circle cx="148.45" cy="212.50" r="0.65" fill="#3a3a3a"/>
<circle cx="150.55" cy="212.50" r="0.65" fill="#3a3a3a"/>
<line x1="217.00" y1="182.10" x2="217.00" y2="192.60" stroke="#303030" stroke-width="0.85"/>
<line x1="215.40" y1="182.10" x2="218.60" y2="182.10" stroke="#303030" stroke-width="0.85"/>
<circle cx="217.00" cy="182.10" r="1.8" fill="#151515"/>
<circle cx="217.00" cy="192.60" r="1.8" fill="#151515"/>
<circle cx="217.00" cy="201.20" r="1.8" fill="#151515"/>
<line x1="231.30" y1="204.00" x2="231.30" y2="213.00" stroke="#303030" stroke-width="0.85"/>
<line x1="229.70" y1="204.00" x2="232.90" y2="204.00" stroke="#303030" stroke-width="0.85"/>
<circle cx="231.30" cy="204.00" r="1.6" fill="#fff" stroke="#151515" stroke-width="0.85"/>
<circle cx="228.50" cy="213.10" r="1.6" fill="#fff" stroke="#151515" stroke-width="0.85"/>
<circle cx="233.70" cy="211.20" r="1.6" fill="#fff" stroke="#151515" stroke-width="0.85"/>
<circle cx="231.30" cy="199.80" r="0.65" fill="#3a3a3a"/>
<line x1="283.50" y1="192.00" x2="283.50" y2="201.70" stroke="#303030" stroke-width="0.85"/>
<line x1="281.90" y1="192.00" x2="285.10" y2="192.00" stroke="#303030" stroke-width="0.85"/>
<circle cx="283.50" cy="188.70" r="1.8" fill="#151515"/>
<circle cx="283.50" cy="195.80" r="1.8" fill="#151515"/>
<circle cx="280.80" cy="204.70" r="1.8" fill="#151515"/>
<circle cx="283.00" cy="205.50" r="1.8" fill="#151515"/>
<circle cx="285.20" cy="205.00" r="1.8" fill="#151515"/>
<line x1="294.90" y1="210.00" x2="294.90" y2="235.00" stroke="#303030" stroke-width="0.85"/>
<line x1="293.30" y1="210.00" x2="296.50" y2="210.00" stroke="#303030" stroke-width="0.85"/>
<circle cx="297.30" cy="210.00" r="1.6" fill="#fff" stroke="#151515" stroke-width="0.85"/>
<circle cx="292.70" cy="215.00" r="1.6" fill="#fff" stroke="#151515" stroke-width="0.85"/>
<circle cx="295.20" cy="224.70" r="1.6" fill="#fff" stroke="#151515" stroke-width="0.85"/>
<circle cx="292.70" cy="233.70" r="1.6" fill="#fff" stroke="#151515" stroke-width="0.85"/>
<circle cx="297.30" cy="232.50" r="1.6" fill="#fff" stroke="#151515" stroke-width="0.85"/>
<circle cx="294.70" cy="205.80" r="0.65" fill="#3a3a3a"/>
<line x1="313.50" y1="192.00" x2="313.50" y2="200.00" stroke="#303030" stroke-width="0.85"/>
<line x1="311.90" y1="192.00" x2="315.10" y2="192.00" stroke="#303030" stroke-width="0.85"/>
<circle cx="313.50" cy="186.70" r="1.8" fill="#151515"/>
<circle cx="313.50" cy="199.70" r="1.8" fill="#151515"/>
<circle cx="311.00" cy="204.00" r="1.8" fill="#151515"/>
<circle cx="316.00" cy="204.00" r="1.8" fill="#151515"/>
<circle cx="313.50" cy="208.00" r="1.8" fill="#151515"/>
<line x1="325.20" y1="210.80" x2="325.20" y2="238.00" stroke="#303030" stroke-width="0.85"/>
<line x1="323.60" y1="210.80" x2="326.80" y2="210.80" stroke="#303030" stroke-width="0.85"/>
<circle cx="325.20" cy="210.80" r="1.6" fill="#fff" stroke="#151515" stroke-width="0.85"/>
<circle cx="322.70" cy="219.20" r="1.6" fill="#fff" stroke="#151515" stroke-width="0.85"/>
<circle cx="326.00" cy="219.20" r="1.6" fill="#fff" stroke="#151515" stroke-width="0.85"/>
<circle cx="327.70" cy="218.30" r="1.6" fill="#fff" stroke="#151515" stroke-width="0.85"/>
<circle cx="325.20" cy="230.00" r="1.6" fill="#fff" stroke="#151515" stroke-width="0.85"/>
<circle cx="325.20" cy="238.70" r="1.6" fill="#fff" stroke="#151515" stroke-width="0.85"/>
<circle cx="325.20" cy="205.50" r="0.65" fill="#3a3a3a"/>
<line x1="394.20" y1="177.60" x2="394.20" y2="192.30" stroke="#303030" stroke-width="0.85"/>
<line x1="392.60" y1="177.60" x2="395.80" y2="177.60" stroke="#303030" stroke-width="0.85"/>
<circle cx="394.10" cy="173.10" r="1.8" fill="#151515"/>
<circle cx="391.70" cy="186.30" r="1.8" fill="#151515"/>
<circle cx="397.10" cy="186.30" r="1.8" fill="#151515"/>
<circle cx="391.70" cy="207.50" r="1.8" fill="#151515"/>
<circle cx="397.10" cy="206.50" r="1.8" fill="#151515"/>
<line x1="408.70" y1="218.00" x2="408.70" y2="235.00" stroke="#303030" stroke-width="0.85"/>
<line x1="407.10" y1="218.00" x2="410.30" y2="218.00" stroke="#303030" stroke-width="0.85"/>
<circle cx="406.20" cy="218.00" r="1.6" fill="#fff" stroke="#151515" stroke-width="0.85"/>
<circle cx="411.30" cy="217.20" r="1.6" fill="#fff" stroke="#151515" stroke-width="0.85"/>
<circle cx="408.70" cy="224.70" r="1.6" fill="#fff" stroke="#151515" stroke-width="0.85"/>
<circle cx="411.30" cy="233.80" r="1.6" fill="#fff" stroke="#151515" stroke-width="0.85"/>
<circle cx="405.80" cy="238.30" r="1.6" fill="#fff" stroke="#151515" stroke-width="0.85"/>
<circle cx="407.65" cy="213.10" r="0.65" fill="#3a3a3a"/>
<circle cx="409.75" cy="213.10" r="0.65" fill="#3a3a3a"/>
<circle cx="34.50" cy="370.90" r="1.6" fill="#fff" stroke="#151515" stroke-width="0.85"/>
<circle cx="36.80" cy="373.60" r="1.6" fill="#fff" stroke="#151515" stroke-width="0.85"/>
<circle cx="38.90" cy="370.90" r="1.6" fill="#fff" stroke="#151515" stroke-width="0.85"/>
<circle cx="40.70" cy="369.60" r="1.6" fill="#fff" stroke="#151515" stroke-width="0.85"/>
<line x1="47.70" y1="333.40" x2="47.70" y2="344.10" stroke="#303030" stroke-width="0.85"/>
<line x1="46.10" y1="333.40" x2="49.30" y2="333.40" stroke="#303030" stroke-width="0.85"/>
<circle cx="47.50" cy="333.40" r="1.8" fill="#151515"/>
<circle cx="47.50" cy="338.75" r="1.8" fill="#151515"/>
<circle cx="47.50" cy="343.20" r="1.8" fill="#151515"/>
<circle cx="47.50" cy="356.60" r="1.8" fill="#151515"/>
<circle cx="46.45" cy="329.40" r="0.65" fill="#3a3a3a"/>
<circle cx="48.55" cy="329.40" r="0.65" fill="#3a3a3a"/>
<circle cx="64.30" cy="368.20" r="1.6" fill="#fff" stroke="#151515" stroke-width="0.85"/>
<circle cx="64.30" cy="370.90" r="1.6" fill="#fff" stroke="#151515" stroke-width="0.85"/>
<circle cx="64.30" cy="373.20" r="1.6" fill="#fff" stroke="#151515" stroke-width="0.85"/>
<line x1="74.50" y1="323.40" x2="74.50" y2="338.75" stroke="#303030" stroke-width="0.85"/>
<line x1="72.90" y1="323.40" x2="76.10" y2="323.40" stroke="#303030" stroke-width="0.85"/>
<circle cx="73.80" cy="315.20" r="1.8" fill="#151515"/>
<circle cx="74.30" cy="342.30" r="1.8" fill="#151515"/>
<circle cx="74.30" cy="345.00" r="1.8" fill="#151515"/>
<circle cx="74.30" cy="347.70" r="1.8" fill="#151515"/>
<circle cx="72.75" cy="310.50" r="0.65" fill="#3a3a3a"/>
<circle cx="74.85" cy="310.50" r="0.65" fill="#3a3a3a"/>
<circle cx="91.00" cy="365.00" r="1.6" fill="#fff" stroke="#151515" stroke-width="0.85"/>
<circle cx="89.80" cy="370.00" r="1.6" fill="#fff" stroke="#151515" stroke-width="0.85"/>
<circle cx="92.00" cy="372.20" r="1.6" fill="#fff" stroke="#151515" stroke-width="0.85"/>
<circle cx="91.00" cy="375.00" r="1.6" fill="#fff" stroke="#151515" stroke-width="0.85"/>
<line x1="101.00" y1="342.50" x2="101.00" y2="345.00" stroke="#303030" stroke-width="0.85"/>
<line x1="99.40" y1="342.50" x2="102.60" y2="342.50" stroke="#303030" stroke-width="0.85"/>
<circle cx="101.00" cy="342.50" r="1.8" fill="#151515"/>
<circle cx="101.00" cy="345.80" r="1.8" fill="#151515"/>
<circle cx="101.00" cy="350.80" r="1.8" fill="#151515"/>
<circle cx="98.90" cy="337.50" r="0.65" fill="#3a3a3a"/>
<circle cx="101.00" cy="337.50" r="0.65" fill="#3a3a3a"/>
<circle cx="103.10" cy="337.50" r="0.65" fill="#3a3a3a"/>
<circle cx="117.30" cy="367.50" r="1.6" fill="#fff" stroke="#151515" stroke-width="0.85"/>
<circle cx="118.70" cy="370.00" r="1.6" fill="#fff" stroke="#151515" stroke-width="0.85"/>
<circle cx="118.20" cy="374.70" r="1.6" fill="#fff" stroke="#151515" stroke-width="0.85"/>
<line x1="128.20" y1="355.80" x2="128.20" y2="368.00" stroke="#303030" stroke-width="0.85"/>
<line x1="126.60" y1="355.80" x2="129.80" y2="355.80" stroke="#303030" stroke-width="0.85"/>
<circle cx="128.20" cy="351.30" r="1.8" fill="#151515"/>
<circle cx="128.20" cy="365.80" r="1.8" fill="#151515"/>
<circle cx="128.20" cy="374.20" r="1.8" fill="#151515"/>
<circle cx="128.20" cy="372.50" r="1.8" fill="#151515"/>
<circle cx="142.10" cy="368.60" r="1.6" fill="#fff" stroke="#151515" stroke-width="0.85"/>
<circle cx="145.80" cy="368.20" r="1.6" fill="#fff" stroke="#151515" stroke-width="0.85"/>
<circle cx="147.10" cy="371.50" r="1.6" fill="#fff" stroke="#151515" stroke-width="0.85"/>
<circle cx="142.90" cy="374.70" r="1.6" fill="#fff" stroke="#151515" stroke-width="0.85"/>
<line x1="155.10" y1="356.40" x2="155.10" y2="360.30" stroke="#303030" stroke-width="0.85"/>
<line x1="153.50" y1="356.40" x2="156.70" y2="356.40" stroke="#303030" stroke-width="0.85"/>
<circle cx="155.00" cy="356.40" r="1.8" fill="#151515"/>
<circle cx="155.00" cy="358.50" r="1.8" fill="#151515"/>
<circle cx="155.00" cy="361.50" r="1.8" fill="#151515"/>
<circle cx="152.90" cy="351.60" r="0.65" fill="#3a3a3a"/>
<circle cx="155.00" cy="351.60" r="0.65" fill="#3a3a3a"/>
<circle cx="157.10" cy="351.60" r="0.65" fill="#3a3a3a"/>
<circle cx="213.80" cy="332.50" r="1.8" fill="#151515"/>
<circle cx="216.70" cy="333.70" r="1.8" fill="#151515"/>
<circle cx="215.00" cy="337.00" r="1.8" fill="#151515"/>
<line x1="227.20" y1="362.00" x2="227.20" y2="372.50" stroke="#303030" stroke-width="0.85"/>
<line x1="225.60" y1="362.00" x2="228.80" y2="362.00" stroke="#303030" stroke-width="0.85"/>
<circle cx="224.70" cy="364.20" r="1.6" fill="#fff" stroke="#151515" stroke-width="0.85"/>
<circle cx="228.30" cy="368.00" r="1.6" fill="#fff" stroke="#151515" stroke-width="0.85"/>
<circle cx="226.70" cy="382.50" r="1.6" fill="#fff" stroke="#151515" stroke-width="0.85"/>
<circle cx="227.20" cy="358.80" r="0.65" fill="#3a3a3a"/>
<line x1="246.30" y1="325.80" x2="246.30" y2="335.00" stroke="#303030" stroke-width="0.85"/>
<line x1="244.70" y1="325.80" x2="247.90" y2="325.80" stroke="#303030" stroke-width="0.85"/>
<circle cx="244.30" cy="328.00" r="1.8" fill="#151515"/>
<circle cx="248.00" cy="331.70" r="1.8" fill="#151515"/>
<circle cx="246.70" cy="345.30" r="1.8" fill="#151515"/>
<circle cx="256.70" cy="378.70" r="1.6" fill="#fff" stroke="#151515" stroke-width="0.85"/>
<circle cx="258.00" cy="380.00" r="1.6" fill="#fff" stroke="#151515" stroke-width="0.85"/>
<circle cx="259.50" cy="381.00" r="1.6" fill="#fff" stroke="#151515" stroke-width="0.85"/>
<circle cx="256.95" cy="373.80" r="0.65" fill="#3a3a3a"/>
<circle cx="259.05" cy="373.80" r="0.65" fill="#3a3a3a"/>
<line x1="312.10" y1="338.80" x2="312.10" y2="356.00" stroke="#303030" stroke-width="0.85"/>
<line x1="310.50" y1="338.80" x2="313.70" y2="338.80" stroke="#303030" stroke-width="0.85"/>
<circle cx="312.10" cy="319.80" r="1.8" fill="#151515"/>
<circle cx="312.10" cy="344.00" r="1.8" fill="#151515"/>
<circle cx="314.80" cy="350.20" r="1.8" fill="#151515"/>
<circle cx="310.20" cy="354.00" r="1.8" fill="#151515"/>
<circle cx="312.10" cy="355.00" r="1.8" fill="#151515"/>
<circle cx="312.90" cy="361.10" r="1.8" fill="#151515"/>
<circle cx="311.60" cy="366.00" r="1.8" fill="#151515"/>
<circle cx="314.80" cy="369.30" r="1.8" fill="#151515"/>
<circle cx="309.70" cy="374.00" r="1.8" fill="#151515"/>
<line x1="327.00" y1="357.90" x2="327.00" y2="371.80" stroke="#303030" stroke-width="0.85"/>
<line x1="325.40" y1="357.90" x2="328.60" y2="357.90" stroke="#303030" stroke-width="0.85"/>
<circle cx="324.30" cy="357.90" r="1.6" fill="#fff" stroke="#151515" stroke-width="0.85"/>
<circle cx="329.70" cy="357.90" r="1.6" fill="#fff" stroke="#151515" stroke-width="0.85"/>
<circle cx="324.30" cy="365.50" r="1.6" fill="#fff" stroke="#151515" stroke-width="0.85"/>
<circle cx="327.80" cy="365.50" r="1.6" fill="#fff" stroke="#151515" stroke-width="0.85"/>
<circle cx="330.00" cy="365.00" r="1.6" fill="#fff" stroke="#151515" stroke-width="0.85"/>
<circle cx="329.70" cy="373.70" r="1.6" fill="#fff" stroke="#151515" stroke-width="0.85"/>
<circle cx="324.30" cy="376.90" r="1.6" fill="#fff" stroke="#151515" stroke-width="0.85"/>
<circle cx="326.80" cy="383.20" r="1.6" fill="#fff" stroke="#151515" stroke-width="0.85"/>
<circle cx="326.80" cy="390.20" r="1.6" fill="#fff" stroke="#151515" stroke-width="0.85"/>
<circle cx="326.80" cy="353.60" r="0.65" fill="#3a3a3a"/>
<line x1="392.60" y1="342.50" x2="392.60" y2="357.70" stroke="#303030" stroke-width="0.85"/>
<line x1="391.00" y1="342.50" x2="394.20" y2="342.50" stroke="#303030" stroke-width="0.85"/>
<circle cx="392.50" cy="334.90" r="1.8" fill="#151515"/>
<circle cx="392.50" cy="350.90" r="1.8" fill="#151515"/>
<circle cx="393.20" cy="362.30" r="1.8" fill="#151515"/>
<circle cx="390.60" cy="371.80" r="1.8" fill="#151515"/>
<circle cx="394.40" cy="369.10" r="1.8" fill="#151515"/>
<line x1="403.90" y1="371.80" x2="403.90" y2="376.20" stroke="#303030" stroke-width="0.85"/>
<line x1="402.30" y1="371.80" x2="405.50" y2="371.80" stroke="#303030" stroke-width="0.85"/>
<circle cx="403.90" cy="371.60" r="1.6" fill="#fff" stroke="#151515" stroke-width="0.85"/>
<circle cx="401.30" cy="376.60" r="1.6" fill="#fff" stroke="#151515" stroke-width="0.85"/>
<circle cx="404.00" cy="377.20" r="1.6" fill="#fff" stroke="#151515" stroke-width="0.85"/>
<circle cx="406.60" cy="376.60" r="1.6" fill="#fff" stroke="#151515" stroke-width="0.85"/>
<circle cx="402.60" cy="381.20" r="1.6" fill="#fff" stroke="#151515" stroke-width="0.85"/>
<circle cx="404.80" cy="382.60" r="1.6" fill="#fff" stroke="#151515" stroke-width="0.85"/>
<circle cx="403.90" cy="366.60" r="0.65" fill="#3a3a3a"/>
<line x1="423.30" y1="336.50" x2="423.30" y2="357.70" stroke="#303030" stroke-width="0.85"/>
<line x1="421.70" y1="336.50" x2="424.90" y2="336.50" stroke="#303030" stroke-width="0.85"/>
<circle cx="423.30" cy="328.00" r="1.8" fill="#151515"/>
<circle cx="423.30" cy="336.20" r="1.8" fill="#151515"/>
<circle cx="423.30" cy="360.40" r="1.8" fill="#151515"/>
<circle cx="424.30" cy="371.40" r="1.8" fill="#151515"/>
<circle cx="425.60" cy="372.40" r="1.8" fill="#151515"/>
<circle cx="421.40" cy="377.10" r="1.8" fill="#151515"/>
<circle cx="431.90" cy="378.80" r="1.6" fill="#fff" stroke="#151515" stroke-width="0.85"/>
<circle cx="434.60" cy="381.00" r="1.6" fill="#fff" stroke="#151515" stroke-width="0.85"/>
<circle cx="437.30" cy="380.40" r="1.6" fill="#fff" stroke="#151515" stroke-width="0.85"/>
<circle cx="435.50" cy="382.60" r="1.6" fill="#fff" stroke="#151515" stroke-width="0.85"/>
<circle cx="432.90" cy="387.20" r="1.6" fill="#fff" stroke="#151515" stroke-width="0.85"/>
<circle cx="434.40" cy="375.70" r="0.65" fill="#3a3a3a"/>
</svg></body></html>
